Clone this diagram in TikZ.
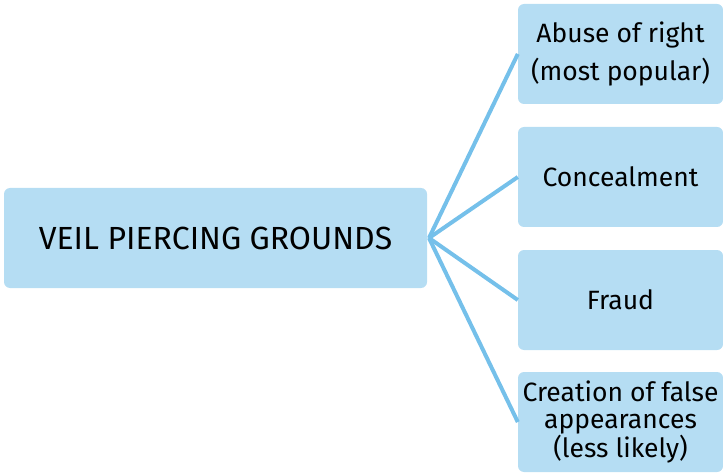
\documentclass[tikz,border=0pt]{standalone}
\usepackage{fontspec}
\setmainfont{Fira Sans}
\definecolor{boxfill}{HTML}{B5DDF3}
\definecolor{linkcol}{HTML}{75C0EA}
\begin{document}
\begin{tikzpicture}[x=1pt,y=1pt,
  box/.style={fill=boxfill, rounded corners=6pt, inner sep=0pt, align=center, text=black},
  link/.style={draw=linkcol, line width=4pt}]
\useasboundingbox (0,0) rectangle (723,472);
\node[box, minimum width=423pt, minimum height=100pt, font=\fontsize{32}{36}\selectfont] (root) at (215.5,234) {VEIL PIERCING GROUNDS};
\node[box, minimum width=205pt, minimum height=100pt, font=\fontsize{26.5}{38}\selectfont] (a) at (620.5,418) {Abuse of right\\(most popular)};
\node[box, minimum width=205pt, minimum height=100pt, font=\fontsize{26.5}{27}\selectfont] (b) at (620.5,295) {Concealment};
\node[box, minimum width=205pt, minimum height=100pt, font=\fontsize{26.5}{27}\selectfont] (c) at (620.5,172) {Fraud};
\node[box, minimum width=205pt, minimum height=100pt, font=\fontsize{26.5}{27}\selectfont] (d) at (620.5,50) {Creation of false\\appearances\\(less likely)};
\coordinate (hub) at (429,234);
\foreach \t in {a,b,c,d} \draw[link] (hub) -- (\t.west);
\end{tikzpicture}
\end{document}
